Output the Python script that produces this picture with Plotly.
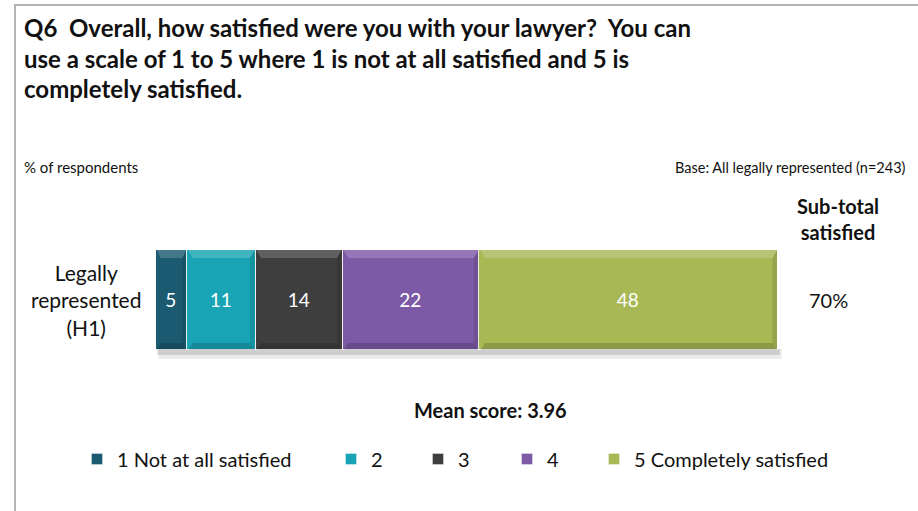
import plotly.graph_objects as go

# Survey results: Q6 satisfaction with lawyer, legally represented respondents
row_label = "Legally<br>represented<br>(H1)"
series_names = ["1 Not at all satisfied", "2", "3", "4", "5 Completely satisfied"]
series_values = [5, 11, 14, 22, 48]
series_colors = ["#1b5a70", "#18a4b4", "#3e3e3e", "#7d5aa6", "#a7b855"]
satisfied_codes = ["4", "5 Completely satisfied"]
mean_score = "3.96"
base_note = "Base: All legally represented (n=243)"
unit_note = "% of respondents"
title_lines = [
    "Q6  Overall, how satisfied were you with your lawyer?  You can",
    "use a scale of 1 to 5 where 1 is not at all satisfied and 5 is",
    "completely satisfied.",
]

W, H = 918, 511
PL, PR, PT, PB = 156, 778, 250, 350  # plot area in pixels


def fx(p):
    return (p - PL) / (PR - PL)


def fy(p):
    return (PB - p) / (PB - PT)


FONT = "Lato, 'Open Sans', sans-serif"
INK = "#111111"

fig = go.Figure()
legend_x = [77, 331, 418, 507, 594]
for i, (name, val, col) in enumerate(zip(series_names, series_values, series_colors)):
    lg = "legend" if i == 0 else f"legend{i + 1}"
    fig.add_trace(go.Bar(
        x=[val], y=[0], orientation="h", name=name, width=1,
        marker=dict(color=col, line=dict(color="rgba(255,255,255,0.9)", width=1.5)),
        text=[str(val)], textposition="inside", insidetextanchor="middle",
        textfont=dict(color="white", size=19, family=FONT),
        legend=lg, hoverinfo="x+name",
    ))

total = sum(series_values)
subtotal = sum(v for n, v in zip(series_names, series_values) if n in satisfied_codes)

layout_legends = {}
for i in range(len(series_names)):
    key = "legend" if i == 0 else f"legend{i + 1}"
    layout_legends[key] = dict(
        x=fx(legend_x[i]), y=fy(459), xanchor="left", yanchor="middle",
        orientation="h", bgcolor="rgba(0,0,0,0)", borderwidth=0,
        font=dict(size=20, family=FONT, color=INK), itemwidth=30,
    )

fig.update_layout(
    width=W, height=H,
    margin=dict(l=PL, r=W - PR, t=PT, b=H - PB),
    paper_bgcolor="white", plot_bgcolor="white",
    barmode="stack", bargap=0,
    xaxis=dict(range=[0, total], visible=False, fixedrange=True),
    yaxis=dict(range=[-0.5, 0.5], visible=False, fixedrange=True),
    showlegend=True,
    font=dict(family=FONT, color=INK),
    **layout_legends,
)

# soft shadow beneath the bar
fig.add_shape(type="rect", xref="paper", yref="paper", x0=0.004, x1=1.006, y0=fy(359), y1=fy(349),
              fillcolor="rgba(0,0,0,0.08)", line_width=0, layer="below")
fig.add_shape(type="rect", xref="paper", yref="paper", x0=0.002, x1=1.003, y0=fy(355), y1=fy(349),
              fillcolor="rgba(0,0,0,0.12)", line_width=0, layer="below")

# bevel: light top edge and darker lower edge on every segment
start = 0
for val in series_values:
    end = start + val
    inset = min(0.9, val * 0.15)
    fig.add_shape(type="path", xref="x", yref="y", line_width=0, layer="above",
                  fillcolor="rgba(255,255,255,0.18)",
                  path=f"M{start + 0.15},0.5 L{end - 0.15},0.5 L{end - inset},0.42 L{start + inset},0.42 Z")
    fig.add_shape(type="path", xref="x", yref="y", line_width=0, layer="above",
                  fillcolor="rgba(0,0,0,0.16)",
                  path=f"M{start + 0.15},-0.5 L{end - 0.15},-0.5 L{end - inset},-0.43 L{start + inset},-0.43 Z")
    fig.add_shape(type="path", xref="x", yref="y", line_width=0, layer="above",
                  fillcolor="rgba(0,0,0,0.10)",
                  path=f"M{end - 0.15},0.5 L{end - 0.15},-0.5 L{end - inset},-0.43 L{end - inset},0.42 Z")
    start = end

# outer frame
fig.add_shape(type="rect", xref="paper", yref="paper",
              x0=fx(15), x1=fx(940), y0=fy(530), y1=fy(5),
              line=dict(color="#b4b4b4", width=2), fillcolor="rgba(0,0,0,0)")

ann = []
for k, line in enumerate(title_lines):
    ann.append(dict(text=f"<b>{line}</b>", x=fx(22), y=fy(28 + 30 * k), xanchor="left", yanchor="middle",
                    font=dict(size=24, family=FONT, color=INK)))
ann.append(dict(text=unit_note, x=fx(22), y=fy(167), xanchor="left", yanchor="middle",
                font=dict(size=15, family=FONT, color=INK)))
ann.append(dict(text=base_note, x=fx(908), y=fy(167), xanchor="right", yanchor="middle",
                font=dict(size=14.5, family=FONT, color=INK)))
ann.append(dict(text="<b>Sub-total<br>satisfied</b>", x=fx(838), y=fy(219), xanchor="center", yanchor="middle",
                align="center", font=dict(size=20, family=FONT, color=INK)))
ann.append(dict(text=f"{subtotal}%", x=fx(828), y=fy(300), xanchor="center", yanchor="middle",
                font=dict(size=20, family=FONT, color=INK)))
ann.append(dict(text=row_label, x=fx(86), y=fy(300), xanchor="center", yanchor="middle",
                align="center", font=dict(size=21, family=FONT, color=INK)))
ann.append(dict(text=f"<b>Mean score: {mean_score}</b>", x=fx(490), y=fy(410), xanchor="center",
                yanchor="middle", font=dict(size=20, family=FONT, color=INK)))
for a in ann:
    a.update(xref="paper", yref="paper", showarrow=False)
fig.update_layout(annotations=ann)

fig.write_html("out.html")
